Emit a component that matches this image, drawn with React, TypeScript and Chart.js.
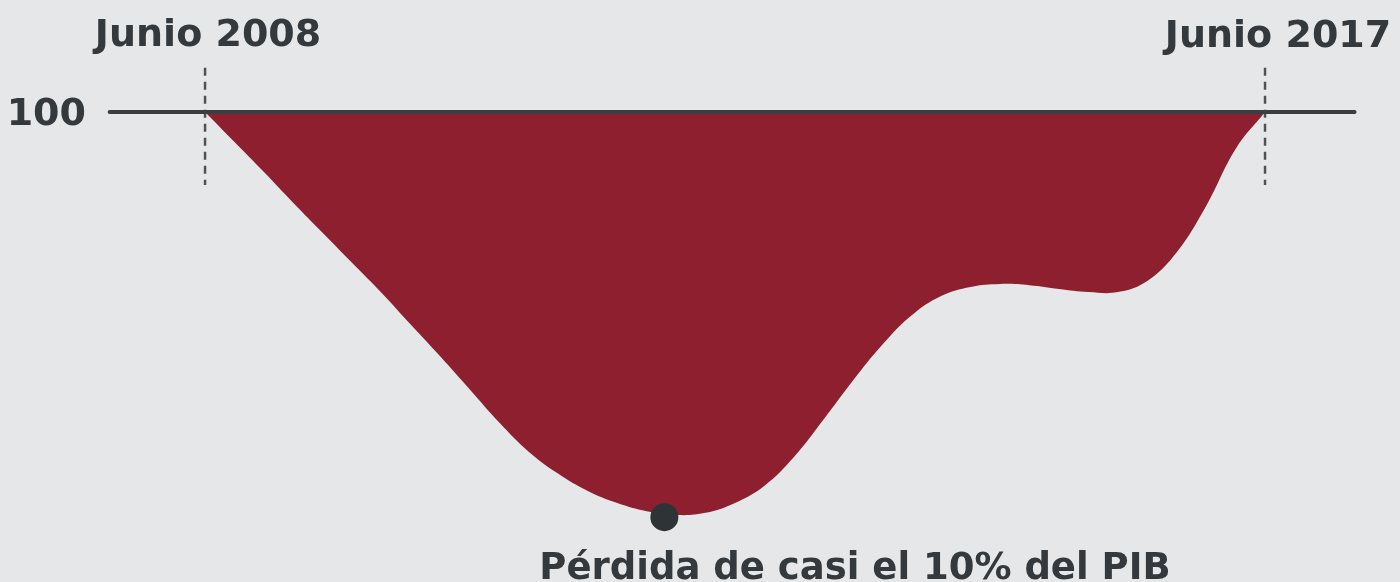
import React, { useEffect, useRef } from "react";
import { Chart, registerables } from "chart.js";

Chart.register(...registerables);

// Quarterly GDP index (Jun 2008 = 100), Jun 2008 to Jun 2017
const quarters: number[] = [
  2008.5, 2008.75, 2009.0, 2009.25, 2009.5, 2009.75, 2010.0, 2010.25, 2010.5, 2010.75,
  2011.0, 2011.25, 2011.5, 2011.75, 2012.0, 2012.25, 2012.5, 2012.75, 2013.0, 2013.25,
  2013.5, 2013.75, 2014.0, 2014.25, 2014.5, 2014.75, 2015.0, 2015.25, 2015.5, 2015.75,
  2016.0, 2016.25, 2016.5, 2016.75, 2017.0, 2017.25, 2017.5,
];
const gdpIndex: number[] = [
  100.0, 99.3, 98.6, 97.88, 97.18, 96.48, 95.78, 95.03, 94.29, 93.52,
  92.75, 92.07, 91.56, 91.16, 90.88, 90.69, 90.6, 90.65, 90.88, 91.28,
  91.95, 92.82, 93.73, 94.57, 95.26, 95.71, 95.92, 95.99, 95.96, 95.87,
  95.8, 95.8, 96.06, 96.73, 97.81, 99.14, 100.0,
];
const baseValue = 100;
const startDate = 2008.5;
const endDate = 2017.5;
const troughPoint = { x: 2012.4, y: 90.55 };
const baseLineRange: number[] = [2007.69, 2018.26];
const markerRange: number[] = [101.03, 98.3];
const startLabel = "Junio 2008";
const endLabel = "Junio 2017";
const baseLabel = "100";
const troughLabel = "Pérdida de casi el 10% del PIB";

const xMin = 2006.759;
const xMax = 2018.646;
const yMin = 89.037;
const yMax = 102.613;

const TEXT = "#33393c";
const FONT = "bold 38px 'DejaVu Sans', sans-serif";

export default function App() {
  const ref = useRef<HTMLCanvasElement | null>(null);

  useEffect(() => {
    if (!ref.current) return;
    const labelsPlugin = {
      id: "labels",
      beforeDraw(chart: any) {
        const c = chart.ctx;
        c.save();
        c.fillStyle = "#e6e7e9";
        c.fillRect(0, 0, chart.width, chart.height);
        c.restore();
      },
      afterDraw(chart: any) {
        const c = chart.ctx;
        const xs = chart.scales.x;
        const ys = chart.scales.y;
        c.save();
        c.fillStyle = TEXT;
        c.font = FONT;
        c.textBaseline = "alphabetic";
        c.textAlign = "center";
        c.fillText(startLabel, xs.getPixelForValue(startDate) + 3, 46);
        c.fillText(endLabel, xs.getPixelForValue(endDate) + 13, 47);
        c.textAlign = "right";
        c.fillText(baseLabel, 86, ys.getPixelForValue(baseValue) + 13);
        c.textAlign = "left";
        c.font = "bold 37px 'DejaVu Sans', sans-serif";
        c.fillText(troughLabel, xs.getPixelForValue(troughPoint.x) - 125, 579);
        c.restore();
      },
    };

    const chart = new Chart(ref.current, {
      type: "line",
      data: {
        datasets: [
          {
            label: "trough",
            type: "scatter",
            data: [troughPoint],
            pointRadius: 14,
            pointBackgroundColor: "#2e3436",
            pointBorderWidth: 0,
            order: 0,
            clip: false,
          } as any,
          {
            label: "base",
            data: baseLineRange.map((x) => ({ x, y: baseValue })),
            borderColor: "#3a3e40",
            borderWidth: 4,
            borderCapStyle: "round",
            pointRadius: 0,
            fill: false,
            order: 1,
          },
          {
            label: "start",
            data: markerRange.map((y) => ({ x: startDate, y })),
            borderColor: "#4d5356",
            borderWidth: 2.5,
            borderDash: [8, 6],
            pointRadius: 0,
            fill: false,
            order: 2,
          },
          {
            label: "end",
            data: markerRange.map((y) => ({ x: endDate, y })),
            borderColor: "#4d5356",
            borderWidth: 2.5,
            borderDash: [8, 6],
            pointRadius: 0,
            fill: false,
            order: 2,
          },
          {
            label: "PIB",
            data: quarters.map((x, i) => ({ x, y: gdpIndex[i] })),
            borderWidth: 0,
            borderColor: "#8e1f2f",
            backgroundColor: "#8e1f2f",
            pointRadius: 0,
            tension: 0.4,
            fill: { value: baseValue },
            order: 3,
          },
        ],
      },
      options: {
        animation: false,
        responsive: true,
        maintainAspectRatio: false,
        layout: { padding: 0, autoPadding: false },
        plugins: { legend: { display: false }, tooltip: { enabled: false } },
        scales: {
          x: { type: "linear", min: xMin, max: xMax, display: false },
          y: { type: "linear", min: yMin, max: yMax, display: false },
        },
      },
      plugins: [labelsPlugin],
    } as any);
    return () => chart.destroy();
  }, []);

  return (
    <div style={{ position: "absolute", left: 0, top: 0, width: 1400, height: 582, background: "#e6e7e9" }}>
      <canvas ref={ref} />
    </div>
  );
}
